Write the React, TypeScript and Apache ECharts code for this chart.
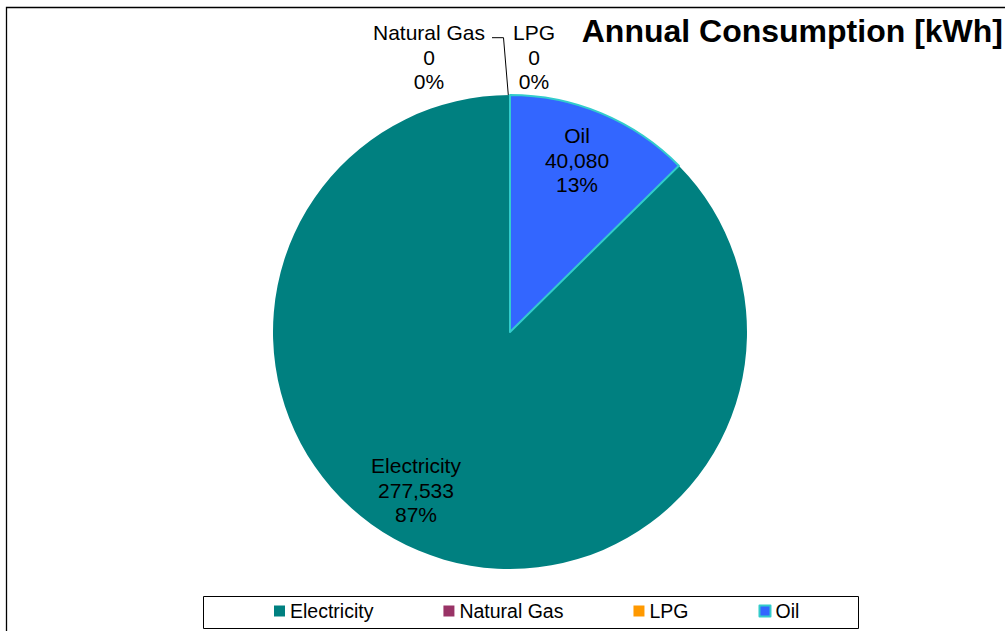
import React, { useEffect, useRef } from "react";
import * as echarts from "echarts";

const CATEGORIES = ["Electricity", "Natural Gas", "LPG", "Oil"];
const VALUES = [277533, 0, 0, 40080];
const COLORS = ["#008080", "#993366", "#FF9900", "#3366FF"];
const TITLE = "Annual Consumption [kWh]";

// layout (pixels)
const CX = 510;
const CY = 332;
const R = 237;
const FONT = "'Liberation Sans', Arial, sans-serif";
// label centres relative to pie centre
const LABEL_POS: Record<string, [number, number]> = {
  Electricity: [-94, 158],
  "Natural Gas": [-81, -275],
  LPG: [24, -275],
  Oil: [67, -172],
};

export default function App() {
  const ref = useRef<HTMLDivElement>(null);
  useEffect(() => {
    document.body.style.margin = "0";
    if (!ref.current) return;
    const chart = echarts.init(ref.current, null, { renderer: "svg" });
    const total = VALUES.reduce((a, b) => a + b, 0);
    const startAngle = 90 - (360 * VALUES[3]) / total;
    chart.setOption({
      animation: false,
      backgroundColor: "#fff",
      title: {
        text: TITLE,
        right: 2,
        top: 15,
        padding: 0,
        textStyle: { fontFamily: FONT, fontSize: 32, fontWeight: "bold", color: "#000" },
      },
      legend: {
        left: 274,
        top: 601,
        itemWidth: 11,
        itemHeight: 11,
        itemGap: 70,
        icon: "rect",
        padding: 0,
        data: CATEGORIES,
        textStyle: { fontFamily: FONT, fontSize: 19.5, color: "#000", padding: [2, 0, 0, 0] },
      },
      graphic: [
        {
          type: "rect",
          shape: { x: 6.5, y: 7.5, width: 1200, height: 1000 },
          style: { fill: "none", stroke: "#000", lineWidth: 1.3 },
          silent: true,
          z: 0,
        },
        {
          type: "rect",
          shape: { x: 203.5, y: 596.5, width: 655, height: 32 },
          style: { fill: "none", stroke: "#000", lineWidth: 1 },
          silent: true,
          z: 0,
        },
      ],
      series: [
        {
          type: "pie",
          center: [CX, CY],
          radius: R,
          startAngle,
          clockwise: true,
          avoidLabelOverlap: false,
          stillShowZeroSum: true,
          data: CATEGORIES.map((name, i) => ({
            name,
            value: VALUES[i],
            itemStyle:
              name === "Oil"
                ? { color: COLORS[i], borderColor: "#33CCCC", borderWidth: 2 }
                : { color: COLORS[i], borderWidth: 0 },
            label: { position: VALUES[i] === 0 ? "outside" : "inside" },
            labelLine: { show: name === "Natural Gas" },
          })),
          label: {
            show: true,
            fontFamily: FONT,
            fontSize: 21,
            lineHeight: 24.5,
            color: "#000",
            align: "center",
            formatter: (p: any) =>
              `${p.name}\n${Number(p.value).toLocaleString("en-US")}\n${Math.round(p.percent)}%`,
          },
          labelLine: {
            lineStyle: { color: "#000", width: 1 },
          },
          labelLayout: (p: any) => {
            const name = CATEGORIES[p.dataIndex];
            const pos = LABEL_POS[name];
            const out: any = {
              x: CX + pos[0],
              y: CY + pos[1],
              align: "center",
              verticalAlign: "middle",
            };
            if (name === "Natural Gas") {
              out.labelLinePoints = [
                [CX - 1.7, CY - R],
                [CX - 6.5, CY - 294.3],
                [CX - 18, CY - 294.3],
              ];
            }
            return out;
          },
        },
      ],
    });
    return () => chart.dispose();
  }, []);
  return <div ref={ref} style={{ width: 1005, height: 631 }} />;
}
